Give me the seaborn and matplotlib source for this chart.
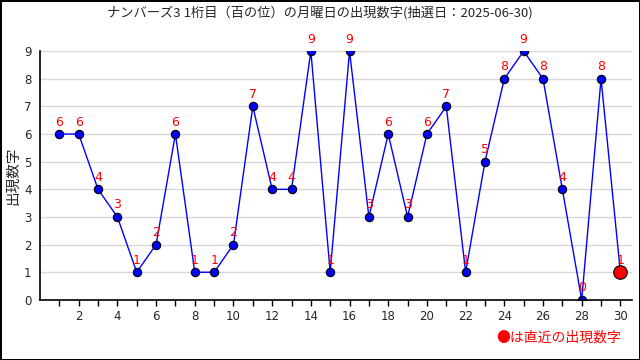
import pandas as pd
import seaborn as sns
import matplotlib.pyplot as plt

# draws (x) and the digit that came up (y)
draws = list(range(1, 31))
digits = [6, 6, 4, 3, 1, 2, 6, 1, 1, 2, 7, 4, 4, 9, 1, 9, 3, 6, 3, 6,
          7, 1, 5, 8, 9, 8, 4, 0, 8, 1]
title = "ナンバーズ3 1桁目（百の位）の月曜日の出現数字(抽選日：2025-06-30)"
y_label = "出現数字"
note = "●は直近の出現数字"

sns.set_theme(style="white")
plt.rcParams['font.family'] = ['Noto Sans CJK JP', 'DejaVu Sans']

df = pd.DataFrame({"draw": draws, "digit": digits})

fig = plt.figure(figsize=(6.4, 3.6), dpi=100, edgecolor="black", linewidth=2)
ax = fig.add_axes([0.0625, 0.167, 0.925, 0.691])

ax.set_axisbelow(True)
ax.grid(axis="y", color="#d8d8d8", linewidth=1)
sns.lineplot(data=df, x="draw", y="digit", ax=ax, color="blue", linewidth=1,
             marker="o", markersize=6, markerfacecolor="blue",
             markeredgecolor="black", markeredgewidth=0.8)

# latest draw highlighted
last = df.iloc[[-1]]
sns.scatterplot(data=last, x="draw", y="digit", ax=ax, color="red", s=95,
                edgecolor="black", linewidth=0.8, zorder=5, clip_on=False)

for x, y in zip(draws, digits):
    ax.text(x, y + 0.2, str(y), color="red", ha="center", va="bottom",
            fontsize=9, family="DejaVu Sans", clip_on=False)

ax.set_xlim(0, 30.6)
ax.set_ylim(0, 9)
ax.set_xticks(range(2, 31, 2))
ax.set_xticks(range(1, 31), minor=True)
ax.set_yticks(range(0, 10))
ax.tick_params(axis="x", which="both", direction="out", length=4, width=1,
               color="black", bottom=True, labelsize=8.5)
ax.tick_params(axis="y", length=0, labelsize=8.5, pad=6)
for lab in ax.get_xticklabels() + ax.get_yticklabels():
    lab.set_family("DejaVu Sans")

for side in ["top", "right"]:
    ax.spines[side].set_visible(False)
for side in ["left", "bottom"]:
    ax.spines[side].set_color("black")
    ax.spines[side].set_linewidth(1.2)

ax.set_xlabel("")
ax.set_ylabel(y_label, fontsize=10.5, va="center")
ax.yaxis.set_label_coords(-0.046, 0.5)
fig.text(0.5, 0.965, title, ha="center", va="center", fontsize=9.5)
fig.text(0.97, 0.063, note, ha="right", va="center", color="red", fontsize=10)

fig.savefig("out.png", dpi=100, edgecolor=fig.get_edgecolor())
